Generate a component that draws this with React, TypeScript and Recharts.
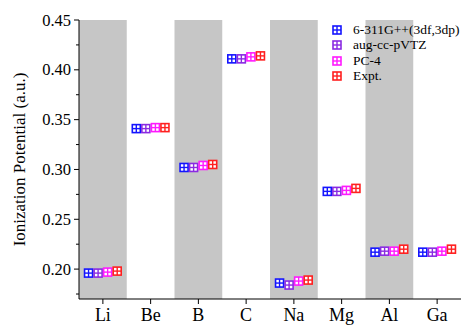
import React from 'react';
import {
  ScatterChart,
  Scatter,
  XAxis,
  YAxis,
  ReferenceArea
} from 'recharts';

const elements = ['Li', 'Be', 'B', 'C', 'Na', 'Mg', 'Al', 'Ga'];

const ip631 = [0.196, 0.341, 0.302, 0.411, 0.186, 0.278, 0.217, 0.217];
const ipAugcc = [0.196, 0.341, 0.302, 0.411, 0.184, 0.278, 0.218, 0.217];
const ipPc4 = [0.197, 0.342, 0.304, 0.413, 0.188, 0.279, 0.218, 0.218];
const ipExpt = [0.198, 0.342, 0.305, 0.414, 0.189, 0.281, 0.220, 0.220];

const yTicks = [0.175, 0.2, 0.225, 0.25, 0.275, 0.3, 0.325, 0.35, 0.375, 0.4, 0.425, 0.45];

const FONT = '"Liberation Serif", "Times New Roman", serif';

const series = [
  { name: '6-311G++(3df,3dp)', values: ip631, color: '#1414ff', offset: -0.3 },
  { name: 'aug-cc-pVTZ', values: ipAugcc, color: '#8a2be2', offset: -0.1 },
  { name: 'PC-4', values: ipPc4, color: '#ff1aff', offset: 0.1 },
  { name: 'Expt.', values: ipExpt, color: '#ff2020', offset: 0.3 }
];

const GridSquare = ({ cx, cy, color }: { cx: number; cy: number; color: string }) => {
  const s = 4;
  return (
    <g>
      <rect x={cx - s} y={cy - s} width={s * 2} height={s * 2} fill="#fff" stroke={color} strokeWidth={1.6} />
      <line x1={cx - s} x2={cx + s} y1={cy} y2={cy} stroke={color} strokeWidth={1.4} />
      <line x1={cx} x2={cx} y1={cy - s} y2={cy + s} stroke={color} strokeWidth={1.4} />
    </g>
  );
};

const YTick = (props: any) => {
  const { x, y, payload } = props;
  const v = payload.value as number;
  const major = Math.round(v * 1000) % 50 === 0;
  return (
    <g>
      <line x1={x - (major ? 5 : 3)} x2={x} y1={y} y2={y} stroke="#000" strokeWidth={1} />
      {major && (
        <text x={x - 8} y={y} dy={5.5} textAnchor="end" fontSize={16.5} fontFamily={FONT} fill="#000">
          {v.toFixed(2)}
        </text>
      )}
    </g>
  );
};

// legend drawn over the plot, like the original figure
const LegendBox = () => (
  <div
    style={{
      position: 'absolute',
      left: 331,
      top: 22,
      fontFamily: FONT,
      fontSize: 13.5,
      color: '#000',
      pointerEvents: 'none'
    }}
  >
    {series.map((s) => (
      <div key={s.name} style={{ display: 'flex', alignItems: 'center', whiteSpace: 'nowrap', height: 15.5 }}>
        <svg width={12} height={12} style={{ marginRight: 10 }}>
          <GridSquare cx={6} cy={6} color={s.color} />
        </svg>
        <span>{s.name}</span>
      </div>
    ))}
  </div>
);

export default function App() {
  return (
    <div style={{ position: 'absolute', left: 0, top: 0, width: 462, height: 326, overflow: 'hidden', background: '#fff' }}>
      <ScatterChart width={462} height={326} margin={{ top: 20, right: 1, bottom: 0, left: 0 }}>
        {elements.map((el, i) =>
          i % 2 === 0 ? (
            <ReferenceArea key={el} x1={i - 0.5} x2={i + 0.5} y1={0.17} y2={0.45} fill="#c6c6c6" fillOpacity={1} stroke="none" />
          ) : null
        )}
        <XAxis
          type="number"
          dataKey="x"
          domain={[-0.5, 7.5]}
          ticks={[0, 1, 2, 3, 4, 5, 6, 7]}
          tickFormatter={(i: number) => elements[i]}
          allowDataOverflow
          height={27}
          stroke="#000"
          tickSize={5}
          tickMargin={4}
          tick={{ fill: '#000', fontSize: 18, fontFamily: FONT }}
        />
        <YAxis
          type="number"
          dataKey="y"
          domain={[0.17, 0.45]}
          ticks={yTicks}
          allowDataOverflow
          width={79}
          stroke="#000"
          tickSize={0}
          tickMargin={0}
          tick={<YTick />}
          label={{
            value: 'Ionization Potential (a.u.)',
            angle: -90,
            position: 'insideLeft',
            offset: 19,
            style: { textAnchor: 'middle', fontSize: 17, fontFamily: FONT, fill: '#000' }
          }}
        />
        {series.map((s) => (
          <Scatter
            key={s.name}
            name={s.name}
            data={s.values.map((v, i) => ({ x: i + s.offset, y: v }))}
            shape={(p: any) => <GridSquare cx={p.cx} cy={p.cy} color={s.color} />}
            isAnimationActive={false}
          />
        ))}
      </ScatterChart>
      <LegendBox />
    </div>
  );
}
